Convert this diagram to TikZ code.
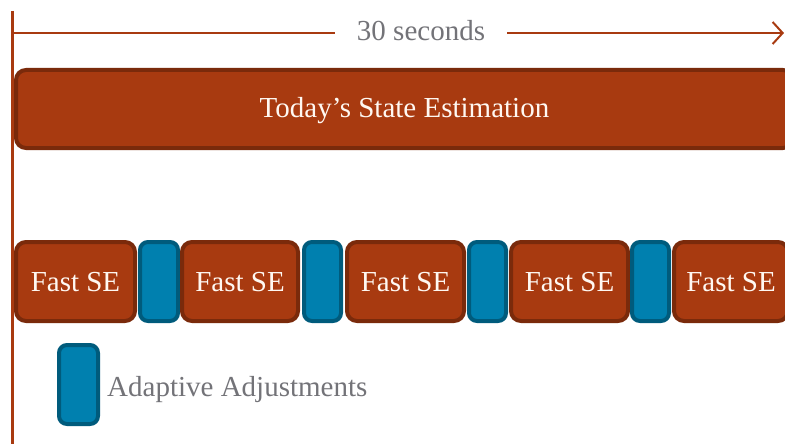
\documentclass[tikz,border=0pt]{standalone}
\usepackage{fontspec}
\setmainfont{Liberation Serif}
\usetikzlibrary{arrows.meta}
\definecolor{rust}{HTML}{A83A10}
\definecolor{rustdark}{HTML}{7A2A0B}
\definecolor{blu}{HTML}{0080AF}
\definecolor{bludark}{HTML}{005B7C}
\definecolor{txtgray}{HTML}{737378}
\definecolor{boxtext}{HTML}{FFF8F2}
\begin{document}
\begin{tikzpicture}[x=1pt,y=-1pt,
  bigfont/.style={font=\fontsize{29}{34}\selectfont},
  sebox/.style={draw=rustdark, fill=rust, line width=4pt, rounded corners=10pt,
    text=boxtext, bigfont, inner sep=0pt, outer sep=0pt, minimum height=79pt,
    text height=20.4pt, text depth=0pt},
  adjbox/.style={draw=bludark, fill=blu, line width=4pt, rounded corners=8pt,
    inner sep=0pt, outer sep=0pt, minimum height=79pt},
  timeline/.style={draw=rust, line width=2pt},
  graylabel/.style={text=txtgray, bigfont, inner sep=0pt}
]
\useasboundingbox (0,0) rectangle (785,444);
\clip (0,0) rectangle (785,444);

% time axis
\coordinate (vtop) at (12.5,11);
\coordinate (vbot) at (12.5,446);
\draw[draw=rust, line width=3pt] (vtop) -- (vbot);
\coordinate (astart) at (13,33);
\coordinate (aend) at (784,33);
\draw[timeline, -{Straight Barb[length=10pt,width=22pt,line width=2pt]}] (astart) -- (aend);
\node[graylabel, fill=white, inner xsep=22pt, inner ysep=2pt, text height=20pt, text depth=4.6pt] (secs) at (421,33) {30 seconds};

% today's SE
\node[sebox, minimum width=777pt, minimum height=78pt, text height=20pt, text depth=2.6pt] (today) at (404.5,109) {Today’s State Estimation};

% fast SE row
\node[sebox, minimum width=119pt] (fse1) at (75.5,281.5) {Fast SE};
\node[adjbox, minimum width=38pt] (adj1) at (159,281.5) {};
\node[sebox, minimum width=116pt] (fse2) at (240,281.5) {Fast SE};
\node[adjbox, minimum width=37pt] (adj2) at (322.5,281.5) {};
\node[sebox, minimum width=117pt] (fse3) at (405.5,281.5) {Fast SE};
\node[adjbox, minimum width=37pt] (adj3) at (487.5,281.5) {};
\node[sebox, minimum width=117pt] (fse4) at (569.5,281.5) {Fast SE};
\node[adjbox, minimum width=37pt] (adj4) at (650.5,281.5) {};
\node[sebox, minimum width=114pt] (fse5) at (731,281.5) {Fast SE};

% legend
\node[adjbox, minimum width=39pt] (legbox) at (78.5,384.5) {};
\node[graylabel, anchor=west] (legtext) at (107,390) {Adaptive Adjustments};
\end{tikzpicture}
\end{document}
